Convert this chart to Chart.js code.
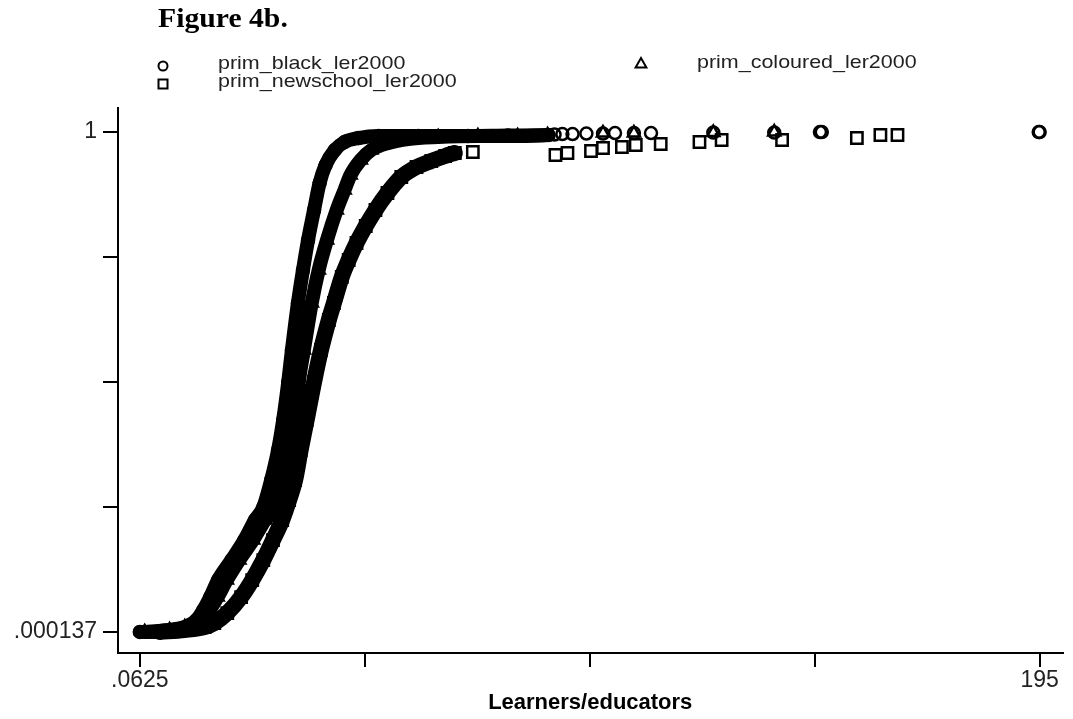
<!DOCTYPE html>
<html>
<head>
<meta charset="utf-8">
<title>Figure 4b</title>
<script src="https://cdn.jsdelivr.net/npm/chart.js"></script>
<style>
  html, body { margin: 0; padding: 0; background: #fff; }
  #wrap { width: 1073px; height: 719px; }
</style>
</head>
<body>
<div id="wrap"><canvas id="chart" width="1073" height="719"></canvas></div>
<script>
// Labels
let figureTitle = "Figure 4b.";
let seriesNames = ["prim_black_ler2000", "prim_coloured_ler2000", "prim_newschool_ler2000"];
let xTitle = "Learners/educators";

// prim_black_ler2000 (circles)
let blackX = [0.06, 4.4, 7.6, 10.4, 12.3, 13.8, 15.3, 17.0, 19.9, 22.7, 25.0, 26.8, 28.5, 30.0, 31.1, 32.2, 33.0, 34.3, 35.4, 36.5, 37.8, 39.0, 40.3, 42.3, 44.4, 47.4, 51.8, 60.4, 71.1, 79.8, 88.6,
              89.9, 91.6, 93.8, 96.8, 100.4, 103.0, 107.1, 110.8, 124.3, 137.5, 147.4, 147.8, 194.8, 195];
let blackY = [0.000137, 0.001, 0.004, 0.012, 0.024, 0.044, 0.070, 0.104, 0.144, 0.184, 0.224, 0.250, 0.304, 0.364, 0.424, 0.500, 0.564, 0.658, 0.724, 0.784, 0.844, 0.898, 0.934, 0.964, 0.980, 0.988, 0.992, 0.992, 0.992, 0.993, 0.994,
              0.995, 0.996, 0.996, 0.997, 0.997, 0.998, 0.998, 0.998, 0.999, 0.999, 1, 1, 1, 1];

// prim_coloured_ler2000 (triangles)
let colouredX = [1.1, 6.5, 9.8, 12.3, 14.7, 16.9, 18.9, 21.6, 24.6, 27.2, 29.4, 31.1, 32.6, 33.7, 34.5, 35.6, 37.3, 38.8, 40.6, 42.7, 44.4, 45.7, 47.9, 50.2, 53.9, 58.2, 64.7, 73.3, 81.9, 88.4,
                 100.4, 107.1, 124.3, 137.5];
let colouredY = [0.0003, 0.004, 0.010, 0.020, 0.038, 0.070, 0.104, 0.144, 0.184, 0.224, 0.250, 0.304, 0.364, 0.424, 0.500, 0.564, 0.658, 0.724, 0.784, 0.844, 0.884, 0.914, 0.944, 0.964, 0.978, 0.986, 0.990, 0.992, 0.992, 0.994,
                 0.998, 0.998, 0.999, 1];

// prim_newschool_ler2000 (squares)
let newschoolX = [4.4, 9.8, 14.1, 16.2, 19.0, 22.0, 24.4, 26.8, 28.9, 30.9, 32.4, 33.7, 34.9, 36.2, 37.8, 39.3, 41.0, 42.1, 43.8, 45.3, 47.0, 49.0, 51.1, 53.7, 56.7, 60.0, 63.2, 66.2, 68.3,
                  72.2, 90.1, 92.7, 97.8, 100.4, 104.5, 107.5, 112.9, 121.3, 126.1, 139.2, 155.4, 160.5, 164.2];
let newschoolY = [0.0003, 0.004, 0.010, 0.018, 0.038, 0.070, 0.104, 0.144, 0.184, 0.224, 0.264, 0.304, 0.364, 0.424, 0.500, 0.564, 0.624, 0.658, 0.710, 0.744, 0.778, 0.812, 0.844, 0.878, 0.910, 0.930, 0.942, 0.952, 0.958,
                  0.960, 0.954, 0.958, 0.962, 0.968, 0.970, 0.974, 0.976, 0.980, 0.984, 0.984, 0.988, 0.994, 0.994];

// Axis ticks
let xTickValues = [0.0625, 48.8, 97.53, 146.27, 195];
let xTickLabels = [".0625", "", "", "", "195"];
let yTickValues = [0.000137, 0.2501, 0.50007, 0.75003, 1];
let yTickLabels = [".000137", "", "", "", "1"];

function toPoints(xs, ys) {
    return xs.map((x, i) => ({ x: x, y: ys[i] }));
}

// One dataset per series: a thick band where the points pile up, hollow markers on top
function makeDataset(label, xs, ys, style, radius, bandEnd, bandWidth) {
    return {
        label: label,
        data: toPoints(xs, ys),
        showLine: true,
        borderColor: "#000",
        borderWidth: bandWidth,
        borderJoinStyle: "round",
        borderCapStyle: "round",
        cubicInterpolationMode: "monotone",
        segment: {
            borderColor: ctx => ctx.p1.parsed.x > bandEnd ? "rgba(0,0,0,0)" : undefined
        },
        pointStyle: style,
        pointRadius: radius,
        pointBorderWidth: 2.5,
        pointBorderColor: "#000",
        pointBackgroundColor: "rgba(0,0,0,0)"
    };
}

function drawMarker(ctx, style, x, y, r) {
    ctx.beginPath();
    if (style === "circle") {
        ctx.arc(x, y, r, 0, Math.PI * 2);
    } else if (style === "triangle") {
        ctx.moveTo(x, y - r);
        ctx.lineTo(x + r * 0.9, y + r * 0.6);
        ctx.lineTo(x - r * 0.9, y + r * 0.6);
        ctx.closePath();
    } else {
        ctx.rect(x - r, y - r, r * 2, r * 2);
    }
    ctx.stroke();
}

// Text drawn a little wider than the font, as in the source figure
function wideText(ctx, text, x, y, stretch) {
    ctx.save();
    ctx.translate(x, y);
    ctx.scale(stretch, 1);
    ctx.fillText(text, 0, 0);
    ctx.restore();
}

// Title and two-column legend above the plot
const headerPlugin = {
    id: "header",
    afterDraw(chart) {
        const ctx = chart.ctx;
        ctx.save();
        ctx.textBaseline = "alphabetic";
        ctx.textAlign = "left";
        ctx.fillStyle = "#000";
        ctx.font = "bold 27px 'Liberation Serif', 'Times New Roman', serif";
        wideText(ctx, figureTitle, 158, 27, 1.1);

        ctx.font = "19px 'Liberation Sans', Arial, sans-serif";
        ctx.fillStyle = "#222";
        ctx.strokeStyle = "#000";
        ctx.lineWidth = 2;
        let items = [
            { style: "circle", mx: 163, my: 66, tx: 218, ty: 69, r: 4.5, text: seriesNames[0] },
            { style: "triangle", mx: 641, my: 64, tx: 697, ty: 68, r: 6, text: seriesNames[1] },
            { style: "rect", mx: 163, my: 84, tx: 218, ty: 87, r: 4.5, text: seriesNames[2] }
        ];
        items.forEach(item => {
            drawMarker(ctx, item.style, item.mx, item.my, item.r);
            wideText(ctx, item.text, item.tx, item.ty, 1.13);
        });
        ctx.restore();
    }
};

Chart.defaults.font.family = "'Liberation Sans', Arial, sans-serif";
Chart.defaults.color = "#222";

let chart = new Chart(document.getElementById("chart"), {
    type: "scatter",
    data: {
        datasets: [
            makeDataset(seriesNames[0], blackX, blackY, "circle", 6, 88.6, 14),
            makeDataset(seriesNames[1], colouredX, colouredY, "triangle", 7, 88.4, 14),
            makeDataset(seriesNames[2], newschoolX, newschoolY, "rect", 8, 68.3, 16)
        ]
    },
    options: {
        responsive: false,
        devicePixelRatio: 1,
        animation: false,
        events: [],
        layout: { padding: { top: 108, right: 5, left: 0, bottom: 0 } },
        plugins: {
            legend: { display: false },
            tooltip: { enabled: false },
            title: { display: false }
        },
        scales: {
            x: {
                type: "linear",
                min: -4.676,
                max: 199.95,
                afterFit: scale => { scale.height = 66; },
                afterBuildTicks: scale => { scale.ticks = xTickValues.map(v => ({ value: v })); },
                ticks: {
                    autoSkip: false,
                    maxRotation: 0,
                    padding: 0,
                    font: { size: 23 },
                    color: "#222",
                    callback: (value, index) => xTickLabels[index]
                },
                grid: { drawOnChartArea: false, drawTicks: true, tickLength: 14, color: "#000", lineWidth: 2 },
                border: { display: true, color: "#000", width: 2 },
                title: {
                    display: true,
                    text: xTitle,
                    color: "#000",
                    font: { size: 22, weight: "bold" },
                    padding: { top: 0, bottom: 3 }
                }
            },
            y: {
                type: "linear",
                min: -0.0419,
                max: 1.048,
                afterFit: scale => { scale.width = 118; },
                afterBuildTicks: scale => { scale.ticks = yTickValues.map(v => ({ value: v })); },
                ticks: {
                    autoSkip: false,
                    padding: 6,
                    font: { size: 23 },
                    color: "#222",
                    callback: (value, index) => yTickLabels[index]
                },
                grid: { drawOnChartArea: false, drawTicks: true, tickLength: 15, color: "#000", lineWidth: 2 },
                border: { display: true, color: "#000", width: 2 }
            }
        }
    },
    plugins: [headerPlugin]
});
</script>
</body>
</html>
